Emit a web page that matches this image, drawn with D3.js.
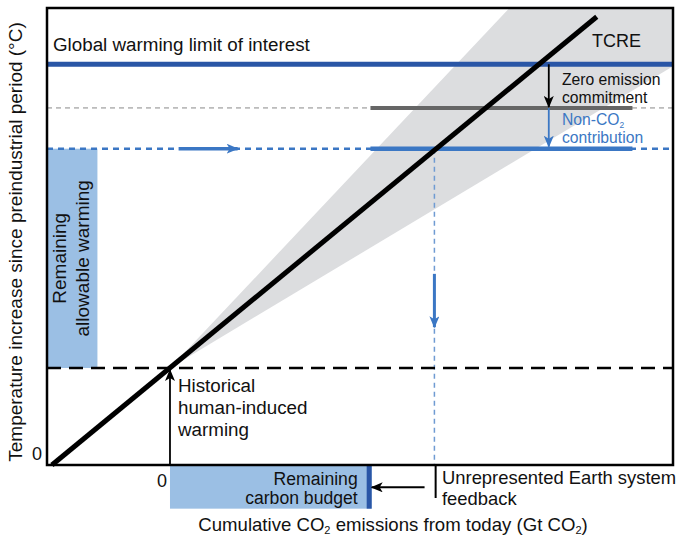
<!DOCTYPE html>
<html lang="en">
<head>
<meta charset="utf-8"/>
<title>Remaining carbon budget</title>
<style>
    body { margin: 0; background: #fff; }
    svg text { font-family: "Liberation Sans", Arial, Helvetica, sans-serif; fill: #111; }
</style>
</head>
<body>
<div id="graph"></div>
<script src="https://d3js.org/d3.v7.min.js"></script>
<script>
    // axis extents (arbitrary units: x in budget units from today, y in degrees)
    var xDomain = [-1.0, 4.09];
    var yDomain = [0, 4.71];

    // temperature levels
    var levelNames = ["historical", "nonCO2", "zeroEmission", "limit"];
    var levelValues = [1.0, 3.26, 3.68, 4.13];

    // TCRE line and its uncertainty cone
    var tcreX = [-0.96, 3.47];
    var tcreY = [0, 4.62];
    var coneX = [0, 2.76, 4.09, 4.09];
    var coneY = [1.0, 4.71, 4.71, 4.11];

    // other x positions
    var segmentX = [1.63, 3.76];       // thick grey / blue segments
    var crossX = 2.15;                 // TCRE meets non-CO2 level
    var budgetX = [0, 1.64];           // remaining carbon budget
    var budgetDepth = -0.45;
    var allowableX = [-1.0, -0.59];    // remaining allowable warming box
    var feedbackX = [2.16, 2.07];      // tick, arrow start
    var feedbackY = [-0.34, -0.23];
    var commitX = 3.08;
    var rightArrowX = [0.07, 0.55];
    var downArrowY = [1.97, 1.42];

    var lv = {};
    levelNames.forEach(function (n, i) { lv[n] = levelValues[i]; });

    var width = 692, height = 538;
    var x = d3.scaleLinear().domain(xDomain).range([47, 673]);
    var y = d3.scaleLinear().domain(yDomain).range([465, 8]);

    var darkBlue = "#2a56a6", midBlue = "#3b77c4", lightBlue = "#9bbfe4", grey = "#666";

    var svg = d3.select("#graph").append("svg")
        .attr("width", width).attr("height", height);

    var defs = svg.append("defs");
    function marker(id, color) {
        defs.append("marker")
            .attr("id", id)
            .attr("viewBox", "0 0 12 10")
            .attr("refX", 11).attr("refY", 5)
            .attr("markerWidth", 12).attr("markerHeight", 10)
            .attr("markerUnits", "userSpaceOnUse")
            .attr("orient", "auto")
            .append("path")
            .attr("d", "M0,0 L12,5 L0,10 L3,5 Z")
            .attr("fill", color);
    }
    marker("headBlack", "#000");
    marker("headBlue", midBlue);

    // uncertainty cone
    svg.append("path")
        .attr("d", d3.line()(coneX.map(function (d, i) { return [x(d), y(coneY[i])]; })) + "Z")
        .attr("fill", "#dcdddf");

    // remaining allowable warming box
    svg.append("rect")
        .attr("x", x(allowableX[0])).attr("y", y(lv.nonCO2))
        .attr("width", x(allowableX[1]) - x(allowableX[0]))
        .attr("height", y(lv.historical) - y(lv.nonCO2))
        .attr("fill", lightBlue);

    // remaining carbon budget box
    svg.append("rect")
        .attr("x", x(budgetX[0])).attr("y", y(0))
        .attr("width", x(budgetX[1]) - x(budgetX[0]))
        .attr("height", y(budgetDepth) - y(0))
        .attr("fill", lightBlue);
    svg.append("rect")
        .attr("x", x(budgetX[1]) - 5).attr("y", y(0))
        .attr("width", 5).attr("height", y(budgetDepth) - y(0))
        .attr("fill", darkBlue);

    // zero emission level, thin dashed + thick segment
    svg.append("line")
        .attr("x1", x(xDomain[0])).attr("x2", x(xDomain[1]))
        .attr("y1", y(lv.zeroEmission)).attr("y2", y(lv.zeroEmission))
        .attr("stroke", "#888").attr("stroke-width", 1).attr("stroke-dasharray", "5,4");
    svg.append("line")
        .attr("x1", x(segmentX[0])).attr("x2", x(segmentX[1]))
        .attr("y1", y(lv.zeroEmission)).attr("y2", y(lv.zeroEmission))
        .attr("stroke", grey).attr("stroke-width", 4);

    // non-CO2 level, dotted + thick segment
    svg.append("line")
        .attr("x1", x(xDomain[0])).attr("x2", x(xDomain[1]))
        .attr("y1", y(lv.nonCO2)).attr("y2", y(lv.nonCO2))
        .attr("stroke", midBlue).attr("stroke-width", 2.5).attr("stroke-dasharray", "6,5");
    svg.append("line")
        .attr("x1", x(segmentX[0])).attr("x2", x(segmentX[1]))
        .attr("y1", y(lv.nonCO2)).attr("y2", y(lv.nonCO2))
        .attr("stroke", midBlue).attr("stroke-width", 4.5);
    svg.append("line")
        .attr("x1", x(rightArrowX[0])).attr("x2", x(rightArrowX[1]))
        .attr("y1", y(lv.nonCO2)).attr("y2", y(lv.nonCO2))
        .attr("stroke", midBlue).attr("stroke-width", 3.5)
        .attr("marker-end", "url(#headBlue)");

    // vertical dashed line from crossing down to axis
    svg.append("line")
        .attr("x1", x(crossX)).attr("x2", x(crossX))
        .attr("y1", y(lv.nonCO2)).attr("y2", y(0))
        .attr("stroke", "#6f9bd2").attr("stroke-width", 1.5).attr("stroke-dasharray", "5,4");
    svg.append("line")
        .attr("x1", x(crossX)).attr("x2", x(crossX))
        .attr("y1", y(downArrowY[0])).attr("y2", y(downArrowY[1]))
        .attr("stroke", midBlue).attr("stroke-width", 3)
        .attr("marker-end", "url(#headBlue)");

    // historical level
    svg.append("line")
        .attr("x1", x(xDomain[0])).attr("x2", x(xDomain[1]))
        .attr("y1", y(lv.historical)).attr("y2", y(lv.historical))
        .attr("stroke", "#000").attr("stroke-width", 2.5).attr("stroke-dasharray", "14,8");

    // global warming limit
    svg.append("line")
        .attr("x1", x(xDomain[0])).attr("x2", x(xDomain[1]))
        .attr("y1", y(lv.limit)).attr("y2", y(lv.limit))
        .attr("stroke", darkBlue).attr("stroke-width", 5);

    // TCRE line
    svg.append("line")
        .attr("x1", x(tcreX[0])).attr("y1", y(tcreY[0]))
        .attr("x2", x(tcreX[1])).attr("y2", y(tcreY[1]))
        .attr("stroke", "#000").attr("stroke-width", 5);

    // arrows
    svg.append("line")
        .attr("x1", x(0)).attr("x2", x(0))
        .attr("y1", y(0)).attr("y2", y(lv.historical) + 2)
        .attr("stroke", "#000").attr("stroke-width", 1.8)
        .attr("marker-end", "url(#headBlack)");
    svg.append("line")
        .attr("x1", x(commitX)).attr("x2", x(commitX))
        .attr("y1", y(lv.limit)).attr("y2", y(lv.zeroEmission) - 1)
        .attr("stroke", "#000").attr("stroke-width", 1.8)
        .attr("marker-end", "url(#headBlack)");
    svg.append("line")
        .attr("x1", x(commitX)).attr("x2", x(commitX))
        .attr("y1", y(lv.zeroEmission)).attr("y2", y(lv.nonCO2) - 2)
        .attr("stroke", midBlue).attr("stroke-width", 1.8)
        .attr("marker-end", "url(#headBlue)");

    // feedback tick and arrow
    svg.append("line")
        .attr("x1", x(feedbackX[0])).attr("x2", x(feedbackX[0]))
        .attr("y1", y(0)).attr("y2", y(feedbackY[0]))
        .attr("stroke", "#000").attr("stroke-width", 2);
    svg.append("line")
        .attr("x1", x(feedbackX[1])).attr("x2", x(budgetX[1]))
        .attr("y1", y(feedbackY[1])).attr("y2", y(feedbackY[1]))
        .attr("stroke", "#000").attr("stroke-width", 2)
        .attr("marker-end", "url(#headBlack)");

    // frame
    svg.append("rect")
        .attr("x", x(xDomain[0])).attr("y", y(yDomain[1]))
        .attr("width", x(xDomain[1]) - x(xDomain[0]))
        .attr("height", y(yDomain[0]) - y(yDomain[1]))
        .attr("fill", "none").attr("stroke", "#000").attr("stroke-width", 2.5);

    // texts
    function label(tx, ty, lines, opts) {
        opts = opts || {};
        var t = svg.append("text")
            .attr("x", tx).attr("y", ty)
            .style("font-size", (opts.size || 16) + "px")
            .style("text-anchor", opts.anchor || "start");
        if (opts.color) t.style("fill", opts.color);
        lines.forEach(function (l, i) {
            t.append("tspan").attr("x", tx).attr("dy", i === 0 ? 0 : (opts.lh || 20)).text(l);
        });
        return t;
    }

    label(53, 51, ["Global warming limit of interest"], { size: 18.8 });
    label(592, 47, ["TCRE"], { size: 18 });
    label(562, 85, ["Zero emission", "commitment"], { size: 15.7, lh: 18 });

    var nonco2 = svg.append("text").attr("x", 562).attr("y", 125)
        .style("font-size", "15.7px").style("fill", midBlue);
    nonco2.append("tspan").text("Non-CO");
    nonco2.append("tspan").attr("dy", 3).style("font-size", "8.5px").text("2");
    nonco2.append("tspan").attr("x", 562).attr("y", 143).text("contribution");

    label(x(0) + 8, 392, ["Historical", "human-induced", "warming"], { size: 18.8, lh: 22 });
    label(x(budgetX[1]) - 14, 485, ["Remaining", "carbon budget"], { size: 17.6, anchor: "end", lh: 19 });
    label(442, 484, ["Unrepresented Earth system", "feedback"], { size: 18.4, lh: 21 });

    // rotated box label
    var cx = (x(allowableX[0]) + x(allowableX[1])) / 2;
    var cy = (y(lv.nonCO2) + y(lv.historical)) / 2;
    var rot = svg.append("text")
        .attr("transform", "translate(" + cx + "," + cy + ") rotate(-90)")
        .style("font-size", "19px").style("text-anchor", "middle");
    rot.append("tspan").attr("x", 0).attr("y", -6).text("Remaining");
    rot.append("tspan").attr("x", 0).attr("y", 17).text("allowable warming");

    // zeros
    svg.append("text").attr("x", 42).attr("y", 460).style("font-size", "18px")
        .style("text-anchor", "end").text("0");
    svg.append("text").attr("x", x(0) - 3).attr("y", 487).style("font-size", "18px")
        .style("text-anchor", "end").text("0");

    // axis titles
    svg.append("text")
        .attr("transform", "translate(22," + 242 + ") rotate(-90)")
        .style("font-size", "19px").style("text-anchor", "middle")
        .text("Temperature increase since preindustrial period (°C)");

    var xt = svg.append("text").attr("x", 393).attr("y", 531)
        .style("font-size", "18.6px").style("text-anchor", "middle");
    xt.append("tspan").text("Cumulative CO");
    xt.append("tspan").attr("dy", 3).style("font-size", "11px").text("2");
    xt.append("tspan").attr("dy", -3).text(" emissions from today (Gt CO");
    xt.append("tspan").attr("dy", 3).style("font-size", "11px").text("2");
    xt.append("tspan").attr("dy", -3).text(")");
</script>
</body>
</html>
